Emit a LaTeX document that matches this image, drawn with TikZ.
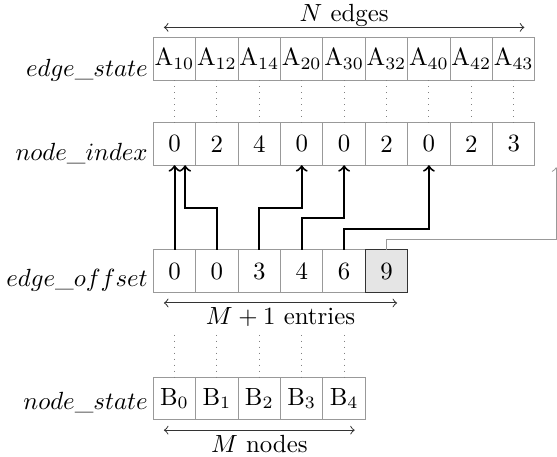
\documentclass[tikz,border=0pt]{standalone}
\usepackage{amsmath}
\usepackage{tikz}

\begin{document}
\begin{tikzpicture}[x=0.6cm,y=0.6cm,
                cell/.style={draw=black!40,minimum size=0.6cm,inner sep=0pt,outer sep=0pt},
                lastcell/.style={cell,draw=black!80,fill=black!10},
                ptr/.style={->,thick},
                endptr/.style={->,draw=black!40},
                span/.style={<->,draw=black!80},
                dots/.style={dotted,draw=black!50}]
                \useasboundingbox (-4.116,-9.382) rectangle (9.021,1.396);

                \node[cell] (A0) at (0,0) {$\mathrm{A}_{10}$};
                \node[cell] (A1) at (1,0) {$\mathrm{A}_{12}$};
                \node[cell] (A2) at (2,0) {$\mathrm{A}_{14}$};
                \node[cell] (A3) at (3,0) {$\mathrm{A}_{20}$};
                \node[cell] (A4) at (4,0) {$\mathrm{A}_{30}$};
                \node[cell] (A5) at (5,0) {$\mathrm{A}_{32}$};
                \node[cell] (A6) at (6,0) {$\mathrm{A}_{40}$};
                \node[cell] (A7) at (7,0) {$\mathrm{A}_{42}$};
                \node[cell] (A8) at (8,0) {$\mathrm{A}_{43}$};

                \node[cell] (I0) at (0,-2) {0};
                \node[cell] (I1) at (1,-2) {2};
                \node[cell] (I2) at (2,-2) {4};
                \node[cell] (I3) at (3,-2) {0};
                \node[cell] (I4) at (4,-2) {0};
                \node[cell] (I5) at (5,-2) {2};
                \node[cell] (I6) at (6,-2) {0};
                \node[cell] (I7) at (7,-2) {2};
                \node[cell] (I8) at (8,-2) {3};

                \node[cell] (O0) at (0,-5) {0};
                \node[cell] (O1) at (1,-5) {0};
                \node[cell] (O2) at (2,-5) {3};
                \node[cell] (O3) at (3,-5) {4};
                \node[cell] (O4) at (4,-5) {6};
                \node[lastcell] (O5) at (5,-5) {9};

                \node[cell] (B0) at (0,-8) {$\mathrm{B}_0$};
                \node[cell] (B1) at (1,-8) {$\mathrm{B}_1$};
                \node[cell] (B2) at (2,-8) {$\mathrm{B}_2$};
                \node[cell] (B3) at (3,-8) {$\mathrm{B}_3$};
                \node[cell] (B4) at (4,-8) {$\mathrm{B}_4$};

                \node[anchor=base east,inner sep=0pt] (Lstate) at (-0.62,-0.4) {$edge\_state$};
                \node[anchor=base east,inner sep=0pt] (Lindex) at (-0.62,-2.4) {$node\_index$};
                \node[anchor=base east,inner sep=0pt] (Loffset) at (-0.62,-5.35) {$edge\_offset$};
                \node[anchor=base east,inner sep=0pt] (Lnode) at (-0.62,-8.27) {$node\_state$};

                \draw[span] ([shift={(0.15cm,0.15cm)}]A0.north west) -- ([shift={(-0.15cm,0.15cm)}]A8.north east);
                \node[anchor=base,inner sep=0pt] (Nedges) at (4,0.88) {$N$ edges};
                \draw[span] ([shift={(0.15cm,-0.15cm)}]O0.south west) -- ([shift={(-0.15cm,-0.15cm)}]O5.south east);
                \node[anchor=base,inner sep=0pt] (Mentries) at (2.5,-6.25) {$M+1$ entries};
                \draw[span] ([shift={(0.15cm,-0.15cm)}]B0.south west) -- ([shift={(-0.15cm,-0.15cm)}]B4.south east);
                \node[anchor=base,inner sep=0pt] (Mnodes) at (2,-9.27) {$M$ nodes};

                \draw[dots] (A0) -- (I0);
                \draw[dots] (A1) -- (I1);
                \draw[dots] (A2) -- (I2);
                \draw[dots] (A3) -- (I3);
                \draw[dots] (A4) -- (I4);
                \draw[dots] (A5) -- (I5);
                \draw[dots] (A6) -- (I6);
                \draw[dots] (A7) -- (I7);
                \draw[dots] (A8) -- (I8);

                \draw[dots] ([yshift=-0.6cm]O0.south) -- (B0);
                \draw[dots] ([yshift=-0.6cm]O1.south) -- (B1);
                \draw[dots] ([yshift=-0.6cm]O2.south) -- (B2);
                \draw[dots] ([yshift=-0.6cm]O3.south) -- (B3);
                \draw[dots] ([yshift=-0.6cm]O4.south) -- (B4);

                \coordinate (P) at (9,-2.55);

                \draw[ptr] (O0.north) -- (I0.south);
                \draw[ptr] (O1.north) -- ++(0,1) -| ([xshift=0.15cm]I0.south);
                \draw[ptr] (O2.north) -- ++(0,1) -| (I3.south);
                \draw[ptr] (O3.north) -- ++(0,0.75) -| (I4.south);
                \draw[ptr] (O4.north) -- ++(0,0.5) -| (I6.south);
                \draw[endptr] (O5.north) -- ++(0,0.25) -| (P);
            \end{tikzpicture}
\end{document}
